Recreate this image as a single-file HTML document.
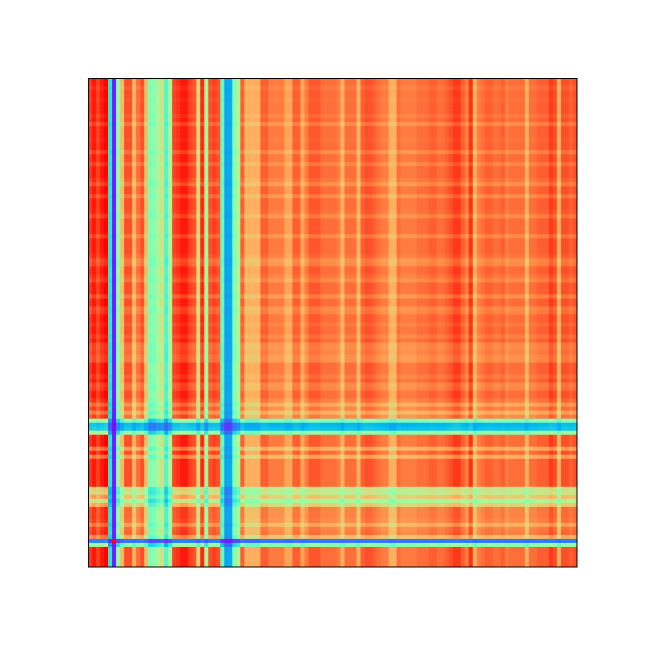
<!DOCTYPE html>
<html><head><meta charset="utf-8">
<style>
html,body{margin:0;padding:0;background:#fff;}
svg{display:block;}
</style></head>
<body>
<svg id="chart" width="648" height="648" viewBox="0 0 648 648" xmlns="http://www.w3.org/2000/svg">
<rect x="0" y="0" width="648" height="648" fill="#fff"/>
<g id="cells"></g>
<rect x="88.5" y="78.5" width="488.5" height="488.5" fill="none" stroke="#000" stroke-width="1"/>
</svg>
<script>
// column strengths (colormap fraction for a fully-red row)
const colValues = [0.93,0.97,0.92,0.97,1.0,0.35,0.04,0.55,0.74,0.9,0.9,0.76,0.86,0.9,0.74,0.5,0.52,0.6,0.65,0.42,0.6,0.92,0.94,0.97,0.97,0.92,0.9,0.7,0.95,0.6,0.9,0.92,0.9,0.45,0.22,0.24,0.52,0.6,0.88,0.76,0.76,0.76,0.76,0.88,0.88,0.84,0.84,0.84,0.84,0.78,0.78,0.88,0.88,0.78,0.84,0.89,0.89,0.89,0.86,0.86,0.86,0.86,0.84,0.76,0.86,0.86,0.86,0.76,0.88,0.9,0.9,0.88,0.86,0.84,0.84,0.76,0.76,0.86,0.84,0.84,0.84,0.84,0.86,0.86,0.86,0.88,0.88,0.86,0.86,0.88,0.9,0.93,0.93,0.88,0.84,0.94,0.76,0.84,0.86,0.88,0.88,0.86,0.86,0.88,0.84,0.86,0.86,0.86,0.86,0.76,0.86,0.86,0.88,0.88,0.88,0.93,0.9,0.76,0.9,0.9,0.88,0.9];
// row strengths (multiplier)
const rowValues = [1,1,0.98,1,1,0.99,1,1,1,0.98,1,0.95,1,1,1,0.99,1,1,0.95,1,1,0.96,1,1,1,0.98,0.94,1,1,0.95,1,1,1,0.99,0.95,1,1,1,1,0.95,1,1,1,1,0.98,0.94,0.95,1,1,0.98,0.95,1,1,1,0.94,1,1,0.95,0.96,1,1,0.98,1,1,0.97,1,0.95,0.95,0.96,0.94,0.94,1,1,1,0.97,1,0.95,0.96,1,1,0.97,0.9,0.96,0.88,0.95,0.58,0.3,0.32,0.6,1,1,1,0.88,1,0.88,1,1,1,1,1,1,1,0.74,0.72,0.82,0.68,0.8,0.96,0.96,0.96,0.95,0.88,0.96,0.97,0.86,0.18,0.6,1,1,1,1,1];
// individual cells that break the pattern: [row, col, value]
const cellOverrides = [[115,6,1.0]];

function rainbow(x){
  x=Math.max(0,Math.min(1,x));
  const r=Math.min(1,Math.abs(2*x-0.5));
  const g=Math.max(0,Math.sin(Math.PI*x));
  const b=Math.max(0,Math.cos(Math.PI*x/2));
  return 'rgb('+Math.round(r*255)+','+Math.round(g*255)+','+Math.round(b*255)+')';
}
const X0=88, Y0=78, W=489, H=489;
const nC=colValues.length, nR=rowValues.length;
const xScale=j=>X0+j*W/nC;
const yScale=i=>Y0+i*H/nR;
const ov={};
cellOverrides.forEach(o=>{ov[o[0]+'_'+o[1]]=o[2];});
const g=document.getElementById('cells');
const NS='http://www.w3.org/2000/svg';
for(let i=0;i<nR;i++){
  for(let j=0;j<nC;j++){
    let v=rowValues[i]*colValues[j];
    const k=i+'_'+j;
    if(k in ov) v=ov[k];
    const r=document.createElementNS(NS,'rect');
    const x=xScale(j), y=yScale(i);
    r.setAttribute('x',x.toFixed(2));
    r.setAttribute('y',y.toFixed(2));
    r.setAttribute('width',(xScale(j+1)-x+0.3).toFixed(2));
    r.setAttribute('height',(yScale(i+1)-y+0.3).toFixed(2));
    r.setAttribute('fill',rainbow(v));
    
    
    g.appendChild(r);
  }
}
</script>
</body></html>
